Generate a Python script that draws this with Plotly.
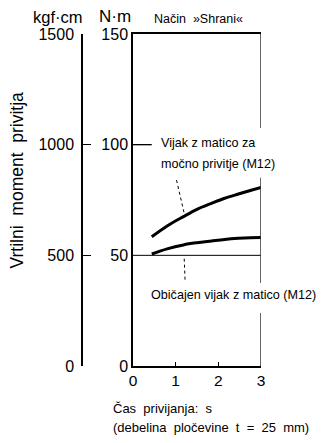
import plotly.graph_objects as go

# ---- data ----
time_strong = [0.44, 0.8, 1.18, 1.5, 1.84, 2.15, 2.47, 2.75, 3.0]
torque_strong = [58.4, 63.3, 67.5, 70.8, 73.5, 75.8, 77.7, 79.3, 80.7]
time_normal = [0.44, 0.8, 1.18, 1.5, 1.84, 2.15, 2.47, 2.75, 3.0]
torque_normal = [50.6, 52.9, 54.7, 55.7, 56.5, 57.2, 57.7, 58.0, 58.1]
x_ticks = [0, 1, 2, 3]
nm_ticks = [0, 50, 100, 150]
kgf_ticks = [0, 500, 1000, 1500]
label_strong = ["Vijak z matico za", "močno privitje (M12)"]
label_normal = "Običajen vijak z matico (M12)"
ref_level = 50

W, H = 325, 443
OFF = 8  # page offset of the plot div
ML, MR, MT, MB = 40, 64, 34, 77
PW = W - ML - MR
PH = H - MT - MB

def px(xp):
    return (xp - ML) / PW

def py(yp):
    return (H - MB - yp) / PH

FONT = "Liberation Sans, Arial, sans-serif"

fig = go.Figure()
fig.add_trace(go.Scatter(x=time_strong, y=torque_strong, mode="lines",
                         line=dict(color="black", width=3, shape="spline"),
                         showlegend=False, hoverinfo="skip"))
fig.add_trace(go.Scatter(x=time_normal, y=torque_normal, mode="lines",
                         line=dict(color="black", width=3, shape="spline"),
                         showlegend=False, hoverinfo="skip"))
fig.add_trace(go.Scatter(x=[None], y=[None], yaxis="y2", showlegend=False))

shapes = [
    dict(type="line", xref="x", yref="y", x0=0, x1=3, y0=ref_level, y1=ref_level,
         line=dict(color="black", width=1)),
    dict(type="line", xref="x", yref="y", x0=0, x1=0.44, y0=100, y1=100,
         line=dict(color="black", width=1.3)),
    dict(type="line", xref="x", yref="y", x0=3, x1=3, y0=150, y1=107.5,
         line=dict(color="#333", width=1.5)),
    dict(type="line", xref="x", yref="y", x0=3, x1=3, y0=85, y1=37.5,
         line=dict(color="#333", width=1.5)),
    dict(type="line", xref="x", yref="y", x0=3, x1=3, y0=24, y1=0,
         line=dict(color="#333", width=1.5)),
    dict(type="line", xref="x", yref="y", x0=1.02, x1=1.2, y0=84, y1=69,
         line=dict(color="black", width=1, dash="dot")),
    dict(type="line", xref="x", yref="y", x0=1.2, x1=1.22, y0=48.5, y1=39,
         line=dict(color="black", width=1, dash="dot")),
]

def ann(text, x, y, size, xref="x", yref="y", xanchor="left", angle=0):
    return dict(text=text, x=x, y=y, xref=xref, yref=yref, xanchor=xanchor,
                yanchor="middle", showarrow=False, textangle=angle, borderpad=0,
                font=dict(family=FONT, size=size, color="black"))

annotations = [
    ann(label_strong[0], 0.633, 100.8, 12.6),
    ann(label_strong[1], 0.633, 91.3, 12.6),
    ann(label_normal, 0.41, 32, 12.6),
    ann("Vrtilni\u00a0 moment\u00a0 privitja", px(16.5), py(180), 17.5, "paper", "paper",
        "center", -90),
    ann("kgf·cm", px(58), py(16.5), 16.5, "paper", "paper", "center"),
    ann("N·m", px(114.5), py(16.5), 17, "paper", "paper", "center"),
    ann("Način\u00a0 »Shrani«", px(153), py(18.5), 12.5, "paper", "paper", "left"),
    ann("Čas\u00a0 privijanja:\u00a0 s", px(112), py(408), 13, "paper", "paper", "left"),
    ann("(debelina\u00a0 pločevine\u00a0 t\u00a0 =\u00a0 25\u00a0 mm)", px(112), py(427), 13,
        "paper", "paper", "left"),
]

fig.update_layout(
    width=W, height=H,
    margin=dict(l=ML - OFF, r=MR + OFF, t=MT - OFF, b=MB + OFF),
    paper_bgcolor="white", plot_bgcolor="white",
    showlegend=False,
    shapes=shapes, annotations=annotations,
    xaxis=dict(domain=[px(133), 1], range=[0, 3], tickvals=x_ticks,
               ticks="inside", ticklen=4, tickwidth=1.3, tickcolor="black",
               showline=True, linecolor="black", linewidth=1.5, mirror=True,
               showgrid=False, zeroline=False,
               tickfont=dict(family=FONT, size=15.5, color="black")),
    yaxis=dict(range=[0, 150], tickvals=nm_ticks, ticks="",
               showline=True, linecolor="black", linewidth=1.5,
               showgrid=False, zeroline=False, ticklabelstandoff=0,
               tickfont=dict(family=FONT, size=16, color="black")),
    yaxis2=dict(range=[0, 1500], tickvals=kgf_ticks, anchor="free", overlaying="y",
                position=px(82), side="left", ticks="inside", ticklen=8, tickwidth=1.3,
                tickcolor="black", showline=True, linecolor="black", linewidth=1.5,
                showgrid=False, zeroline=False, ticklabelstandoff=4,
                tickfont=dict(family=FONT, size=16, color="black")),
)

fig.write_html("out.html")
